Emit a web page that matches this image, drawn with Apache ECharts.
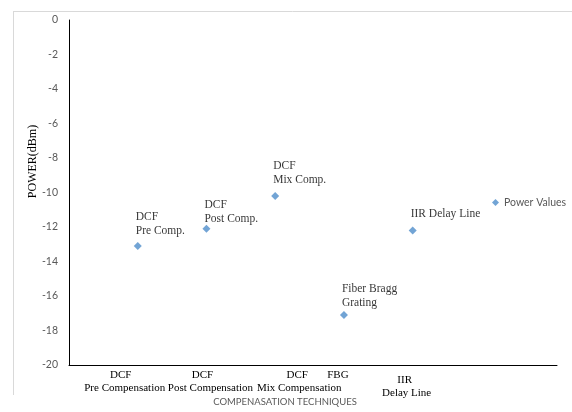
<!DOCTYPE html>
<html>
<head>
<meta charset="utf-8">
<script src="https://cdn.jsdelivr.net/npm/echarts@6/dist/echarts.min.js"></script>
<style>
  html, body { margin: 0; padding: 0; background: #fff; }
  #chart { width: 572px; height: 412px; }
</style>
</head>
<body>
<div id="chart"></div>
<script>
// ---- data ----
const xPositions = [1, 2, 3, 4, 5];
const powerValues = [-13.1, -12.1, -10.2, -17.1, -12.2];
const pointLabels = ['DCF\nPre Comp.', 'DCF\nPost Comp.', 'DCF\nMix Comp.', 'Fiber Bragg\nGrating', 'IIR Delay Line'];
const categoryLabels = [
  ['DCF', 'Pre Compensation'],
  ['DCF', 'Post Compensation'],
  ['DCF', 'Mix Compensation'],
  ['FBG'],
  ['IIR', 'Delay Line']
];
const yTicks = { min: -20, max: 0, interval: 2 };
const seriesName = 'Power Values';
const xTitle = 'COMPENASATION TECHNIQUES';
const yTitle = 'POWER(dBm)';

// ---- layout tweaks (not data) ----
const labelShift = [[-17, -13], [-4, 4], [22, 24], [-6], [-8, -6]];
const labelLift = [15, 10, 16, 12, 16];

const serif = "'Liberation Serif', 'Times New Roman', serif";
const sans = "Lato, 'Open Sans', sans-serif";

const rich = {};
categoryLabels.forEach((lines, i) => {
  lines.forEach((t, j) => {
    const d = labelShift[i][j] || 0;
    const st = {
      fontFamily: serif, fontSize: 11, color: '#000', lineHeight: 13,
      padding: [0, d < 0 ? -2 * d : 0, 0, d > 0 ? 2 * d : 0]
    };
    if (i === 4 && j === 0) { st.lineHeight = 23; }
    if (i === 4 && j === 1) { st.lineHeight = 3; }
    rich['s' + i + '_' + j] = st;
  });
});

const chart = echarts.init(document.getElementById('chart'), null, { renderer: 'canvas' });
chart.setOption({
  animation: false,
  backgroundColor: '#fff',
  grid: { left: 69, right: 15, top: 20, bottom: 42, containLabel: false },
  legend: {
    data: [seriesName], icon: 'diamond', itemWidth: 7, itemHeight: 7,
    left: 492, top: 197, padding: 0,
    textStyle: { fontFamily: sans, fontSize: 10.5, color: '#595959' }
  },
  xAxis: {
    type: 'value', min: 0, max: 7.1, interval: 1,
    axisLine: { onZero: false, lineStyle: { color: '#000', width: 1 } },
    axisTick: { show: false },
    splitLine: { show: false },
    axisLabel: {
      showMaxLabel: false, showMinLabel: false, margin: 4,
      formatter: function (v) {
        const i = xPositions.indexOf(v);
        if (i < 0) return '';
        return categoryLabels[i].map((t, j) => '{s' + i + '_' + j + '|' + t + '}').join('\n');
      },
      rich: rich
    },
    name: xTitle, nameLocation: 'middle', nameGap: 32, nameMoveOverlap: false,
    nameTextStyle: { fontFamily: sans, fontSize: 9.5, color: '#595959', padding: [0, 56, 0, 0] }
  },
  yAxis: {
    type: 'value', min: yTicks.min, max: yTicks.max, interval: yTicks.interval,
    axisLine: { show: true, lineStyle: { color: '#000', width: 1 } },
    axisTick: { show: false },
    splitLine: { show: false },
    axisLabel: { fontFamily: sans, fontSize: 10.5, color: '#595959', margin: 11 },
    name: yTitle, nameLocation: 'middle', nameRotate: 90, nameGap: 30, nameMoveOverlap: false,
    nameTextStyle: { fontFamily: serif, fontSize: 12, color: '#000', padding: [0, 0, 0, 62] }
  },
  graphic: [
    { type: 'line', shape: { x1: 13, y1: 11.5, x2: 572, y2: 11.5 }, style: { stroke: '#d9d9d9', lineWidth: 1 }, silent: true },
    { type: 'line', shape: { x1: 13.5, y1: 11, x2: 13.5, y2: 395 }, style: { stroke: '#d9d9d9', lineWidth: 1 }, silent: true }
  ],
  series: [{
    name: seriesName, type: 'scatter', symbol: 'diamond', symbolSize: 8,
    itemStyle: { color: '#4f8dca' },
    data: xPositions.map((x, i) => ({
      value: [x, powerValues[i]],
      label: { offset: [-2, 4 - labelLift[i] + 7] }
    })),
    label: {
      show: true, position: 'top', distance: 0, align: 'left', verticalAlign: 'bottom',
      fontFamily: serif, fontSize: 11.5, lineHeight: 14, color: '#000',
      formatter: p => pointLabels[p.dataIndex]
    }
  }]
});
</script>
</body>
</html>
